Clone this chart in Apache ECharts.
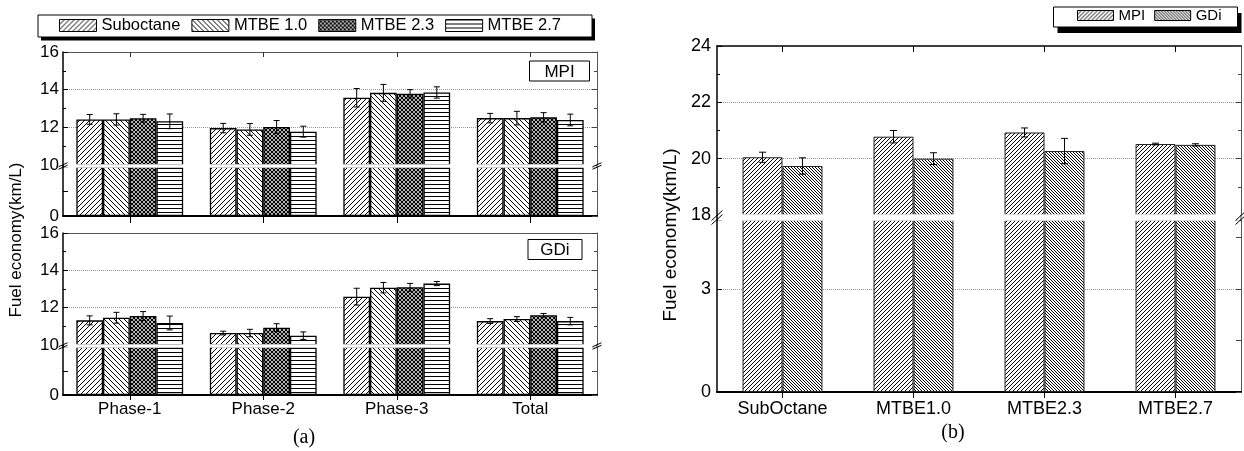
<!DOCTYPE html>
<html>
<head>
<meta charset="utf-8">
<script src="https://cdn.jsdelivr.net/npm/echarts@6/dist/echarts.min.js"></script>
<style>
  html, body { margin: 0; padding: 0; background: #fff; }
  #chart { width: 1244px; height: 451px; }
</style>
</head>
<body>
<div id="chart"></div>
<script>
// ---------------- data ----------------
const phases = ['Phase-1', 'Phase-2', 'Phase-3', 'Total'];
const fuelsA = ['Suboctane', 'MTBE 1.0', 'MTBE 2.3', 'MTBE 2.7'];

// MPI vehicle, fuel economy (km/L) per test phase
const mpiSuboctane = [12.42, 11.96, 13.57, 12.49];
const mpiMtbe10    = [12.42, 11.89, 13.83, 12.49];
const mpiMtbe23    = [12.48, 12.02, 13.78, 12.53];
const mpiMtbe27    = [12.32, 11.77, 13.85, 12.39];
const mpiSuboctaneErr = [0.26, 0.25, 0.49, 0.25];
const mpiMtbe10Err    = [0.30, 0.31, 0.45, 0.36];
const mpiMtbe23Err    = [0.21, 0.34, 0.22, 0.25];
const mpiMtbe27Err    = [0.39, 0.29, 0.30, 0.31];

// GDi vehicle, fuel economy (km/L) per test phase
const gdiSuboctane = [11.32, 10.64, 12.59, 11.28];
const gdiMtbe10    = [11.46, 10.64, 13.07, 11.39];
const gdiMtbe23    = [11.55, 10.93, 13.09, 11.59];
const gdiMtbe27    = [11.18, 10.50, 13.29, 11.28];
const gdiSuboctaneErr = [0.24, 0.10, 0.45, 0.13];
const gdiMtbe10Err    = [0.29, 0.20, 0.28, 0.13];
const gdiMtbe23Err    = [0.24, 0.21, 0.21, 0.10];
const gdiMtbe27Err    = [0.37, 0.20, 0.11, 0.20];

// Highway fuel economy by fuel
const fuelsB = ['SubOctane', 'MTBE1.0', 'MTBE2.3', 'MTBE2.7'];
const enginesB = ['MPI', 'GDi'];
const hwyMpi    = [20.05, 20.78, 20.93, 20.52];
const hwyGdi    = [19.74, 20.00, 20.27, 20.49];
const hwyMpiErr = [0.18, 0.22, 0.16, 0.03];
const hwyGdiErr = [0.29, 0.21, 0.45, 0.04];

// ---------------- fill patterns ----------------
function tile(w, h, draw) {
  const c = document.createElement('canvas');
  c.width = w; c.height = h;
  const g = c.getContext('2d');
  g.fillStyle = '#fff';
  g.fillRect(0, 0, w, h);
  g.strokeStyle = '#000';
  g.fillStyle = '#000';
  draw(g, w, h);
  return { image: c, repeat: 'repeat' };
}
// crisp one-pixel diagonals
function pixFwd(g, p) { for (let i = 0; i < p; i++) g.fillRect(i, p - 1 - i, 1, 1); } // "/"
function pixBack(g, p) { for (let i = 0; i < p; i++) g.fillRect(i, i, 1, 1); }         // "\"
function fwd(g, p) {
  g.beginPath();
  g.moveTo(-1, p + 1); g.lineTo(p + 1, -1);
  g.moveTo(-1, 1); g.lineTo(1, -1);
  g.moveTo(p - 1, p + 1); g.lineTo(p + 1, p - 1);
  g.stroke();
}
function back(g, p) {
  g.beginPath();
  g.moveTo(-1, -1); g.lineTo(p + 1, p + 1);
  g.moveTo(p - 1, -1); g.lineTo(p + 1, 1);
  g.moveTo(-1, p - 1); g.lineTo(1, p + 1);
  g.stroke();
}
const patSlash  = tile(5, 5, (g, p) => pixFwd(g, p));
const patBack   = tile(5, 5, (g, p) => pixBack(g, p));
const patCross  = tile(4, 4, (g, p) => { g.lineWidth = 1.2; fwd(g, p); back(g, p); });
const patHoriz  = tile(4, 4, (g, w) => { g.fillRect(0, 0, w, 1); });
const patSlashB = tile(4, 4, (g, p) => pixFwd(g, p));
const patBackB  = tile(3, 3, (g, p) => pixBack(g, p));

// ---------------- layout ----------------
const FONT = '"Liberation Sans", Arial, sans-serif';
const grids = [
  { left: 63,  top: 52,  width: 534, height: 113 }, // MPI, 10-16
  { left: 63,  top: 167, width: 534, height: 49  }, // MPI, 0-10
  { left: 63,  top: 233, width: 534, height: 112 }, // GDi, 10-16
  { left: 63,  top: 347, width: 534, height: 48  }, // GDi, 0-10
  { left: 717, top: 46,  width: 524, height: 169 }, // highway, 18-24
  { left: 717, top: 220, width: 524, height: 172 }  // highway, 0-5
];

const blackLine = { color: '#000', width: 1.5 };
const greyLine = { color: '#555', width: 1 };

function xAxis(gi, cats, pos, o) {
  return Object.assign({
    type: 'category', gridIndex: gi, data: cats, position: pos,
    axisLine: { show: true, onZero: false, lineStyle: greyLine },
    axisTick: { show: false },
    axisLabel: { show: false },
    splitLine: { show: false }
  }, o);
}
const xAxes = [
  xAxis(0, phases, 'top', { axisTick: { show: true, inside: true, length: 5, alignWithLabel: true, lineStyle: { color: '#333' } } }),
  xAxis(1, phases, 'bottom', { axisLine: { show: true, onZero: false, lineStyle: { color: '#000', width: 2 } },
    axisTick: { show: true, inside: false, length: 7, alignWithLabel: true, lineStyle: { color: '#000' } } }),
  xAxis(2, phases, 'top', {}),
  xAxis(3, phases, 'bottom', { axisLine: { show: true, onZero: false, lineStyle: { color: '#000', width: 2 } },
    axisTick: { show: true, inside: false, length: 5, alignWithLabel: true, lineStyle: { color: '#000' } },
    axisLabel: { show: true, color: '#000', fontFamily: FONT, fontSize: 17, margin: 6 } }),
  xAxis(4, fuelsB, 'top', { axisLine: { show: true, onZero: false, lineStyle: blackLine },
    axisTick: { show: true, inside: true, length: 6, alignWithLabel: true, lineStyle: { color: '#000' } } }),
  xAxis(5, fuelsB, 'bottom', { axisLine: { show: true, onZero: false, lineStyle: { color: '#000', width: 2 } },
    axisTick: { show: true, inside: false, length: 6, alignWithLabel: true, lineStyle: { color: '#000' } },
    axisLabel: { show: true, color: '#000', fontFamily: FONT, fontSize: 18, margin: 8 } })
];

function yPair(gi, min, max, interval, o) {
  const base = {
    type: 'value', gridIndex: gi, min: min, max: max, interval: interval,
    axisLine: { show: true, onZero: false },
    axisTick: { show: true, inside: true, length: 5, lineStyle: { color: '#000' } },
    minorTick: { show: o.minor, splitNumber: 2, length: 3, lineStyle: { color: '#000' } },
    splitLine: { show: false }
  };
  const left = Object.assign({}, base, {
    position: 'left',
    axisLine: { show: true, onZero: false, lineStyle: blackLine },
    axisLabel: { show: true, color: '#000', fontFamily: FONT, fontSize: o.fs, margin: o.margin,
      formatter: o.fmt || (v => String(v)) },
    splitLine: { show: o.grid, showMinLine: false, showMaxLine: false,
      lineStyle: { color: '#999', type: 'dotted', width: 1 } }
  });
  const right = Object.assign({}, base, {
    position: 'right',
    interval: o.rightInterval || interval,
    axisLine: { show: true, onZero: false, lineStyle: greyLine },
    axisTick: { show: true, inside: true, length: 5, lineStyle: { color: '#444' } },
    minorTick: { show: o.minor, splitNumber: 2, length: 3, lineStyle: { color: '#444' } },
    axisLabel: { show: false }
  });
  return [left, right];
}
const onlyZero = v => (v === 0 ? '0' : '');
const yAxes = [].concat(
  yPair(0, 10, 16, 2, { minor: true, grid: true, fs: 17, margin: 4 }),
  yPair(1, 0, 10, 5, { minor: false, grid: false, fs: 17, margin: 4, fmt: onlyZero }),
  yPair(2, 10, 16, 2, { minor: true, grid: true, fs: 17, margin: 4 }),
  yPair(3, 0, 10, 5, { minor: false, grid: false, fs: 17, margin: 4, fmt: onlyZero }),
  yPair(4, 18, 24, 2, { minor: true, grid: true, fs: 18, margin: 6 }),
  yPair(5, 0, 5, 3, { minor: false, grid: true, fs: 18, margin: 6, rightInterval: 1.5,
    fmt: v => (v === 0 || v === 3 ? String(v) : '') })
);

// ---------------- series ----------------
function barSeries(gi, name, values, fill, gap, border) {
  return {
    type: 'bar', name: name, xAxisIndex: gi, yAxisIndex: gi * 2,
    data: values, barGap: '0%', barCategoryGap: gap, clip: true, silent: true,
    itemStyle: { color: fill, borderColor: border.color, borderWidth: border.width }
  };
}
function errSeries(gi, means, errs, slot, nSlots, gapFrac, capHalf) {
  return {
    type: 'custom', xAxisIndex: gi, yAxisIndex: gi * 2, silent: true, z: 5,
    data: means.map((m, i) => [i, m - errs[i], m + errs[i]]),
    encode: { x: 0, y: [1, 2] },
    renderItem(params, api) {
      const band = api.size([1, 0])[0];
      const bw = band * (1 - gapFrac) / nSlots;
      const hi = api.coord([api.value(0), api.value(2)]);
      const lo = api.coord([api.value(0), api.value(1)]);
      const x = hi[0] + (slot - (nSlots - 1) / 2) * bw;
      const st = { stroke: '#000', lineWidth: 1 };
      return { type: 'group', children: [
        { type: 'line', shape: { x1: x, y1: hi[1], x2: x, y2: lo[1] }, style: st },
        { type: 'line', shape: { x1: x - capHalf, y1: hi[1], x2: x + capHalf, y2: hi[1] }, style: st },
        { type: 'line', shape: { x1: x - capHalf, y1: lo[1], x2: x + capHalf, y2: lo[1] }, style: st }
      ] };
    }
  };
}

const patternsA = [patSlash, patBack, patCross, patHoriz];
const mpiSets = [mpiSuboctane, mpiMtbe10, mpiMtbe23, mpiMtbe27];
const mpiErrs = [mpiSuboctaneErr, mpiMtbe10Err, mpiMtbe23Err, mpiMtbe27Err];
const gdiSets = [gdiSuboctane, gdiMtbe10, gdiMtbe23, gdiMtbe27];
const gdiErrs = [gdiSuboctaneErr, gdiMtbe10Err, gdiMtbe23Err, gdiMtbe27Err];
const borderA = { color: '#000', width: 1.3 };
const borderB = { color: '#222', width: 1 };

const series = [];
[[mpiSets, mpiErrs, 0], [gdiSets, gdiErrs, 2]].forEach(([sets, errs, g0]) => {
  sets.forEach((vals, f) => {
    series.push(barSeries(g0, fuelsA[f], vals, patternsA[f], '20%', borderA));
    series.push(barSeries(g0 + 1, fuelsA[f], vals, patternsA[f], '20%', borderA));
    series.push(errSeries(g0, vals, errs[f], f, 4, 0.2, 3));
  });
});
const patternsB = [patSlashB, patBackB];
[[hwyMpi, hwyMpiErr], [hwyGdi, hwyGdiErr]].forEach(([vals, errs], k) => {
  series.push(barSeries(4, enginesB[k], vals, patternsB[k], '39%', borderB));
  series.push(barSeries(5, enginesB[k], vals, patternsB[k], '39%', borderB));
  series.push(errSeries(4, vals, errs, k, 2, 0.39, 3.5));
});

// ---------------- decorations ----------------
const graphics = [];
function boxWithShadow(x, y, w, h, dx, dy) {
  graphics.push({ type: 'rect', z: 1, shape: { x: x + dx, y: y + dy, width: w, height: h }, style: { fill: '#000' } });
  graphics.push({ type: 'rect', z: 2, shape: { x: x, y: y, width: w, height: h }, style: { fill: '#fff', stroke: '#000', lineWidth: 1 } });
}
boxWithShadow(38, 15, 554, 22, 3, 3.5);
boxWithShadow(1053.5, 7, 184, 20, 4, 6);

function tagBox(x, y, w, h, label) {
  graphics.push({ type: 'rect', z: 10, shape: { x: x, y: y, width: w, height: h },
    style: { fill: '#fff', stroke: '#000', lineWidth: 1 } });
  graphics.push({ type: 'text', z: 11, x: x + w / 2, y: y + h / 2 + 1,
    style: { text: label, fill: '#000', fontFamily: FONT, fontSize: 17, align: 'center', verticalAlign: 'middle' } });
}
tagBox(529.5, 61, 60, 20, 'MPI');
tagBox(528, 239.5, 54, 20, 'GDi');

// broken-axis gaps: white band over the bars, axis lines carried through, "//" marks
function axisBreak(upper, lower, slashW, slashH, sep) {
  const yTop = upper.top + upper.height, yBot = lower.top;
  graphics.push({ type: 'rect', z: 10, shape: { x: upper.left + 1, y: yTop - 0.8, width: upper.width - 2, height: yBot - yTop + 1.6 },
    style: { fill: '#fff' } });
  graphics.push({ type: 'line', z: 10, shape: { x1: upper.left, y1: yTop, x2: upper.left, y2: yBot }, style: { stroke: '#000', lineWidth: 1.5 } });
  const xr = upper.left + upper.width;
  graphics.push({ type: 'line', z: 10, shape: { x1: xr, y1: yTop, x2: xr, y2: yBot }, style: { stroke: '#555', lineWidth: 1 } });
  const yc = (yTop + yBot) / 2;
  [upper.left, xr].forEach(x => {
    [-sep / 2, sep / 2].forEach(d => {
      graphics.push({ type: 'line', z: 12,
        shape: { x1: x - slashW / 2, y1: yc + d + slashH / 2, x2: x + slashW / 2, y2: yc + d - slashH / 2 },
        style: { stroke: '#000', lineWidth: 1 } });
    });
  });
}
axisBreak(grids[0], grids[1], 9, 4, 2.5);
axisBreak(grids[2], grids[3], 9, 4, 2.5);
axisBreak(grids[4], grids[5], 11, 10, 4);

// axis titles and panel captions
graphics.push({ type: 'text', z: 5, x: 16, y: 240, rotation: Math.PI / 2,
  style: { text: 'Fuel economy(km/L)', fill: '#000', fontFamily: FONT, fontSize: 17, align: 'center', verticalAlign: 'middle' } });
graphics.push({ type: 'text', z: 5, x: 671, y: 235, rotation: Math.PI / 2,
  style: { text: 'Fuel economy(km/L)', fill: '#000', fontFamily: FONT, fontSize: 19, align: 'center', verticalAlign: 'middle' } });
graphics.push({ type: 'text', z: 5, x: 304, y: 438,
  style: { text: '(a)', fill: '#000', fontFamily: '"Liberation Serif", "Times New Roman", serif', fontSize: 20, align: 'center', verticalAlign: 'middle' } });
graphics.push({ type: 'text', z: 5, x: 953, y: 433,
  style: { text: '(b)', fill: '#000', fontFamily: '"Liberation Serif", "Times New Roman", serif', fontSize: 20, align: 'center', verticalAlign: 'middle' } });

// ---------------- chart ----------------
const chart = echarts.init(document.getElementById('chart'), null, { renderer: 'canvas' });
chart.setOption({
  animation: false,
  backgroundColor: '#fff',
  grid: grids,
  xAxis: xAxes,
  yAxis: yAxes,
  legend: [
    { data: fuelsA, left: 59, top: 17, padding: 0, itemWidth: 37, itemHeight: 12, itemGap: 11,
      icon: 'rect', selectedMode: false,
      itemStyle: { borderColor: '#000', borderWidth: 1 },
      textStyle: { color: '#000', fontFamily: FONT, fontSize: 16.5 } },
    { data: enginesB, left: 1077, top: 8, padding: 0, itemWidth: 36, itemHeight: 10, itemGap: 9,
      icon: 'rect', selectedMode: false,
      itemStyle: { borderColor: '#000', borderWidth: 1 },
      textStyle: { color: '#000', fontFamily: FONT, fontSize: 15 } }
  ],
  graphic: { elements: graphics },
  series: series
});
</script>
</body>
</html>
